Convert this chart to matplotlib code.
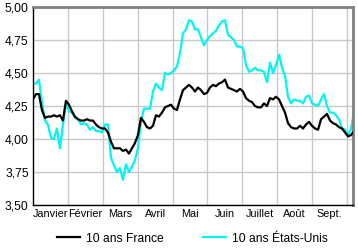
import numpy as np
import matplotlib
matplotlib.use('Agg')
import matplotlib.pyplot as plt
from matplotlib.ticker import FixedLocator, NullFormatter, FixedFormatter

plt.rcParams['font.family'] = ['Liberation Sans', 'DejaVu Sans']

months = ['Janvier', 'Février', 'Mars', 'Avril', 'Mai', 'Juin',
          'Juillet', 'Août', 'Sept.']
y_ticks = [3.50, 3.75, 4.00, 4.25, 4.50, 4.75, 5.00]

# taux a 10 ans, janvier -> debut octobre
france = [4.30, 4.34, 4.34, 4.22, 4.16, 4.17, 4.17, 4.18, 4.17, 4.18,
          4.14, 4.29, 4.26, 4.21, 4.17, 4.15, 4.14, 4.14, 4.15, 4.14,
          4.14, 4.11, 4.09, 4.08, 4.08, 4.05, 3.98, 3.93, 3.93, 3.93,
          3.91, 3.92, 3.89, 3.93, 3.97, 4.03, 4.16, 4.13, 4.09, 4.08,
          4.10, 4.18, 4.17, 4.20, 4.24, 4.25, 4.26, 4.23, 4.22, 4.30,
          4.37, 4.39, 4.41, 4.39, 4.36, 4.39, 4.37, 4.34, 4.35, 4.39,
          4.41, 4.40, 4.42, 4.43, 4.45, 4.39, 4.38, 4.37, 4.36, 4.38,
          4.36, 4.31, 4.29, 4.28, 4.25, 4.24, 4.24, 4.27, 4.25, 4.31,
          4.30, 4.32, 4.30, 4.25, 4.20, 4.12, 4.09, 4.08, 4.08, 4.10,
          4.08, 4.11, 4.13, 4.10, 4.08, 4.07, 4.15, 4.17, 4.19, 4.14,
          4.12, 4.11, 4.09, 4.08, 4.05, 4.02, 4.03, 4.06]

usa = [4.42, 4.42, 4.45, 4.28, 4.14, 4.11, 4.01, 4.00, 4.08, 3.93,
       4.11, 4.27, 4.21, 4.20, 4.16, 4.15, 4.11, 4.12, 4.11, 4.07,
       4.09, 4.06, 4.06, 4.05, 4.11, 4.11, 3.86, 3.80, 3.75, 3.78,
       3.69, 3.81, 3.75, 3.79, 3.84, 3.93, 4.13, 4.23, 4.23, 4.23,
       4.36, 4.42, 4.39, 4.37, 4.50, 4.49, 4.50, 4.52, 4.55, 4.65,
       4.80, 4.83, 4.90, 4.89, 4.83, 4.83, 4.77, 4.71, 4.75, 4.78,
       4.80, 4.82, 4.86, 4.89, 4.90, 4.79, 4.77, 4.75, 4.70, 4.70,
       4.69, 4.56, 4.51, 4.52, 4.54, 4.52, 4.52, 4.51, 4.43, 4.58,
       4.50, 4.56, 4.64, 4.54, 4.48, 4.32, 4.27, 4.30, 4.29, 4.29,
       4.27, 4.32, 4.33, 4.27, 4.26, 4.25, 4.30, 4.34, 4.25, 4.20,
       4.20, 4.18, 4.15, 4.08, 4.07, 4.03, 4.08, 4.20]

x_end = 9.2  # debut octobre, en mois
x = np.linspace(0, x_end, len(france))

fig = plt.figure(figsize=(3.58, 2.48), dpi=100)
ax = fig.add_axes([0.092, 0.173, 0.894, 0.799])

ax.plot(x, france, color='black', lw=1.6, label='10 ans France', zorder=3)
ax.plot(x, usa, color='#00f5f5', lw=1.6, label='10 ans États-Unis', zorder=2)

ax.set_xlim(0, 9.17)
ax.set_ylim(3.5, 5.0)

ax.xaxis.set_major_locator(FixedLocator(range(1, 10)))
ax.xaxis.set_major_formatter(NullFormatter())
ax.xaxis.set_minor_locator(FixedLocator([i + 0.5 for i in range(len(months))]))
ax.xaxis.set_minor_formatter(FixedFormatter(months))
ax.set_yticks(y_ticks)
ax.set_yticklabels([('%.2f' % v).replace('.', ',') for v in y_ticks])

ax.tick_params(axis='both', which='both', length=0, colors='black')
ax.tick_params(axis='x', which='minor', pad=3, labelsize=7.8)
ax.tick_params(axis='y', pad=3, labelsize=8.7)

ax.grid(True, which='major', color='#c8c8c8', lw=1)
ax.set_axisbelow(True)

for side in ['top', 'right']:
    ax.spines[side].set_color('#808080')
    ax.spines[side].set_linewidth(2)
for side in ['left', 'bottom']:
    ax.spines[side].set_color('black')
    ax.spines[side].set_linewidth(1)

fig.legend(loc='center', bbox_to_anchor=(0.538, 0.038), ncol=2, frameon=False,
           fontsize=8.7, handlelength=1.9, columnspacing=3.3, handletextpad=0.5)

fig.savefig('out.png', dpi=100)
